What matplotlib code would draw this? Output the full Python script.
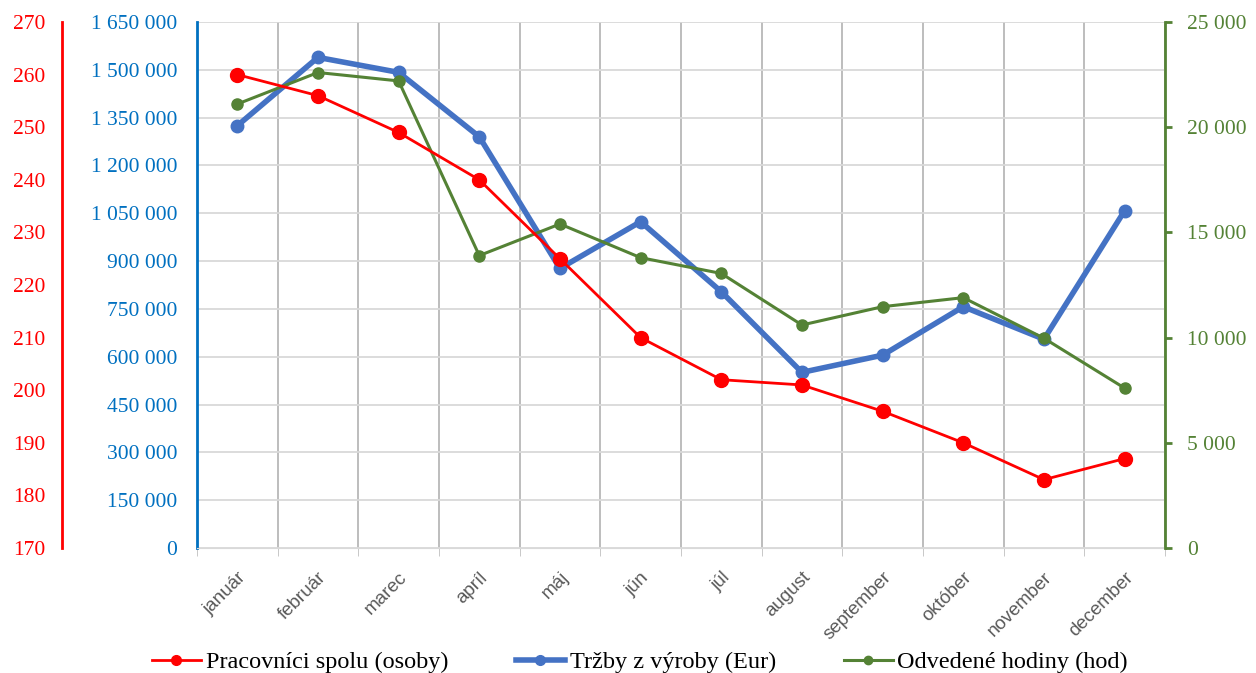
import numpy as np
import matplotlib.pyplot as plt
from matplotlib.lines import Line2D
from matplotlib.ticker import FixedLocator, FuncFormatter

# Data
months = ['január', 'február', 'marec', 'apríl', 'máj', 'jún', 'júl',
          'august', 'september', 'október', 'november', 'december']
pracovnici = [260, 256, 249, 240, 225, 210, 202, 201, 196, 190, 183, 187]
trzby = [1324600, 1539000, 1492000, 1290000, 877000, 1023600, 804000,
         551000, 605000, 757000, 655000, 1058000]
hodiny = [21100, 22600, 22200, 13900, 15400, 13800, 13050, 10600, 11470,
          11900, 9970, 7600]

RED = '#FF0000'
BLUE = '#4472C4'
BLUE_AX = '#0070C0'
GREEN = '#548235'
SERIF = 'Liberation Serif'


def spaced(v, pos=None):
    return f"{v:,.0f}".replace(",", " ")


fig = plt.figure(figsize=(12.56, 6.73), dpi=100)
ax = fig.add_axes([0.1568, 0.1857, 0.7707, 0.7816])
ax_g = ax.twinx()
ax_r = ax.twinx()

x = np.arange(len(months))

# Blue series on host axis
ax.plot(x, trzby, color=BLUE, lw=4, marker='o', ms=9, zorder=3)
ax.set_xlim(-0.5, len(months) - 0.5)
ax.set_ylim(0, 1650000)
ax.yaxis.set_major_locator(FixedLocator(np.arange(0, 1650001, 150000)))
ax.yaxis.set_major_formatter(FuncFormatter(spaced))
ax.grid(axis='y', color='#D9D9D9', lw=1.3)
ax.set_xticks(x)
ax.set_xticklabels(months, rotation=45, ha='right', rotation_mode='anchor',
                   color='#595959', fontsize=13.5, family='Liberation Sans')
ax.xaxis.set_minor_locator(FixedLocator(np.arange(-0.5, len(months), 1.0)))
ax.grid(axis='x', which='minor', color='#ABABAB', lw=1.1)
ax.tick_params(axis='x', which='major', length=0, pad=15)
ax.tick_params(axis='x', which='minor', length=6, color='#BFBFBF')
ax.tick_params(axis='y', length=0, pad=14, labelcolor=BLUE_AX, labelsize=15.5)
for lab in ax.get_yticklabels():
    lab.set_family(SERIF)
ax.spines['left'].set_color(BLUE_AX)
ax.spines['left'].set_linewidth(2)
ax.spines['bottom'].set_color('#D9D9D9')
ax.spines['top'].set_visible(False)
ax.spines['right'].set_visible(False)

# Green series on right axis
ax_g.plot(x, hodiny, color=GREEN, lw=2.2, marker='o', ms=8, zorder=4)
ax_g.set_ylim(0, 25000)
ax_g.yaxis.set_major_locator(FixedLocator(np.arange(0, 25001, 5000)))
ax_g.yaxis.set_major_formatter(FuncFormatter(spaced))
ax_g.tick_params(axis='y', length=5, width=2, color=GREEN, pad=11,
                 labelcolor=GREEN, labelsize=15.5)
for lab in ax_g.get_yticklabels():
    lab.set_family(SERIF)
for s in ['top', 'left', 'bottom']:
    ax_g.spines[s].set_visible(False)
ax_g.spines['right'].set_color(GREEN)
ax_g.spines['right'].set_linewidth(2)

# Red series on outer left axis
ax_r.plot(x, pracovnici, color=RED, lw=2, marker='o', ms=10, zorder=5)
ax_r.set_ylim(170, 270)
ax_r.yaxis.set_major_locator(FixedLocator(np.arange(170, 271, 10)))
ax_r.yaxis.tick_left()
ax_r.spines['left'].set_position(('axes', -0.1395))
ax_r.spines['left'].set_visible(True)
ax_r.spines['left'].set_color(RED)
ax_r.spines['left'].set_linewidth(2)
for s in ['top', 'right', 'bottom']:
    ax_r.spines[s].set_visible(False)
ax_r.tick_params(axis='y', length=0, pad=12, labelcolor=RED, labelsize=15.5)
for lab in ax_r.get_yticklabels():
    lab.set_family(SERIF)

# Legend
handles = [
    Line2D([], [], color=RED, lw=2, marker='o', ms=7),
    Line2D([], [], color=BLUE, lw=4, marker='o', ms=7),
    Line2D([], [], color=GREEN, lw=2.2, marker='o', ms=6),
]
labels = ['Pracovníci spolu (osoby)', 'Tržby z výroby (Eur)',
          'Odvedené hodiny (hod)']
fig.legend(handles, labels, loc='lower center',
           bbox_to_anchor=(0.5096, -0.033), ncol=3, frameon=False,
           prop={'family': SERIF, 'size': 17.5}, handlelength=2.0,
           handletextpad=0.2, columnspacing=2.8)

fig.savefig('out.png', dpi=100)
